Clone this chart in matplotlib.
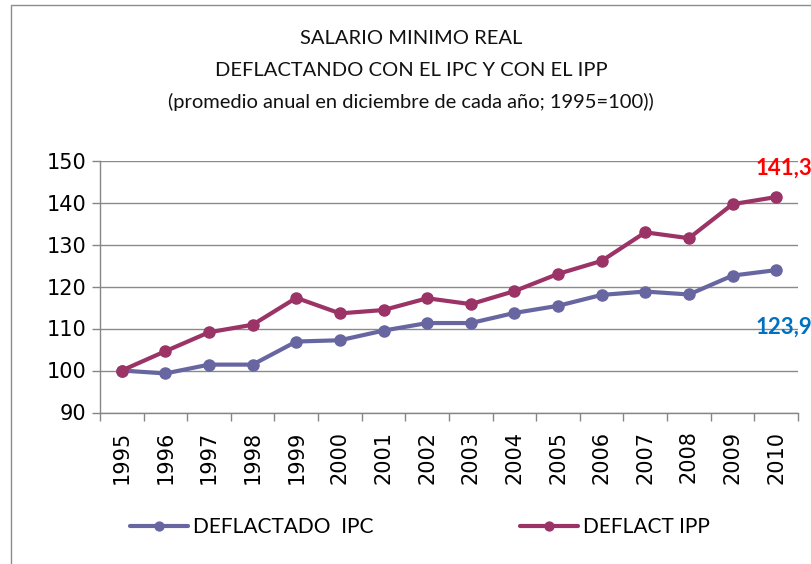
import matplotlib
matplotlib.use("Agg")
import matplotlib.pyplot as plt
from matplotlib.patches import Rectangle
from matplotlib.ticker import FixedLocator, NullFormatter

years = ["1995", "1996", "1997", "1998", "1999", "2000", "2001", "2002",
         "2003", "2004", "2005", "2006", "2007", "2008", "2009", "2010"]
ipc = [100.0, 99.3, 101.4, 101.4, 106.9, 107.2, 109.5, 111.3,
       111.3, 113.7, 115.4, 118.0, 118.8, 118.1, 122.6, 123.9]
ipp = [100.0, 104.6, 109.1, 110.9, 117.3, 113.6, 114.4, 117.2,
       115.8, 118.9, 123.0, 126.1, 132.9, 131.5, 139.6, 141.3]
labels_end = ["123,9", "141,3"]

c_ipc = "#6866a1"
c_ipp = "#9b3366"

W, H = 812, 564
fig = plt.figure(figsize=(W / 100, H / 100), dpi=100)
fig.patch.set_facecolor("white")

# outer chart frame (cropped on right/bottom like the original)
fig.add_artist(Rectangle((11 / W, -0.1), 2, 1 - 5 / H + 0.1, transform=fig.transFigure,
                         fill=False, edgecolor="#8c8c8c", lw=1))

ax = fig.add_axes([100 / W, 1 - 412.5 / H, 698 / W, 252 / H])
x = list(range(len(years)))

ax.plot(x, ipc, color=c_ipc, lw=3, marker="o", ms=8, label="DEFLACTADO  IPC",
        solid_capstyle="round", zorder=3)
ax.plot(x, ipp, color=c_ipp, lw=3, marker="o", ms=8, label="DEFLACT IPP",
        solid_capstyle="round", zorder=4)

ax.set_xlim(-0.5, len(years) - 0.5)
ax.set_ylim(90, 150)
ax.set_yticks(range(90, 151, 10))
ax.set_xticks(x)
ax.set_xticklabels(years, rotation=90)
ax.xaxis.set_minor_locator(FixedLocator([i - 0.5 for i in range(len(years) + 1)]))
ax.xaxis.set_minor_formatter(NullFormatter())
ax.tick_params(axis="x", which="major", length=0, pad=13, labelsize=15)
ax.tick_params(axis="x", which="minor", length=6, color="#868686", width=1)
ax.tick_params(axis="y", length=6, color="#868686", width=1, pad=4, labelsize=15)
for t in ax.get_xticklabels() + ax.get_yticklabels():
    t.set_family("DejaVu Sans")

ax.grid(axis="y", color="#8a8a8a", lw=1)
ax.set_axisbelow(True)
for s in ["top", "right"]:
    ax.spines[s].set_visible(False)
for s in ["left", "bottom"]:
    ax.spines[s].set_color("#868686")
    ax.spines[s].set_linewidth(1)

# end labels
ax.annotate(labels_end[1], (x[-1], ipp[-1]), xytext=(-21, 29), textcoords="offset pixels",
            ha="left", va="center", color="#ff0000", fontsize=16, fontweight="bold",
            family="Lato", annotation_clip=False)
ax.annotate(labels_end[0], (x[-1], ipc[-1]), xytext=(-21, -57), textcoords="offset pixels",
            ha="left", va="center", color="#0070c0", fontsize=16, fontweight="bold",
            family="Lato", annotation_clip=False)

# title
title_lines = ["SALARIO MINIMO REAL",
               "DEFLACTANDO CON EL IPC Y CON EL IPP",
               "(promedio anual en diciembre de cada año; 1995=100))"]
for i, line in enumerate(title_lines):
    fig.text(411 / W, 1 - (38 + 32 * i) / H, line, ha="center", va="center",
             fontsize=14.5, family="Lato", color="#111111")

leg = fig.legend(loc="center", bbox_to_anchor=(420 / W, 1 - 527 / H), ncol=2,
                 frameon=False, prop={"family": "Lato", "size": 15},
                 handlelength=2.8, handletextpad=0.25, columnspacing=7.0,
                 markerscale=0.8)

fig.savefig("out.png", dpi=100)
